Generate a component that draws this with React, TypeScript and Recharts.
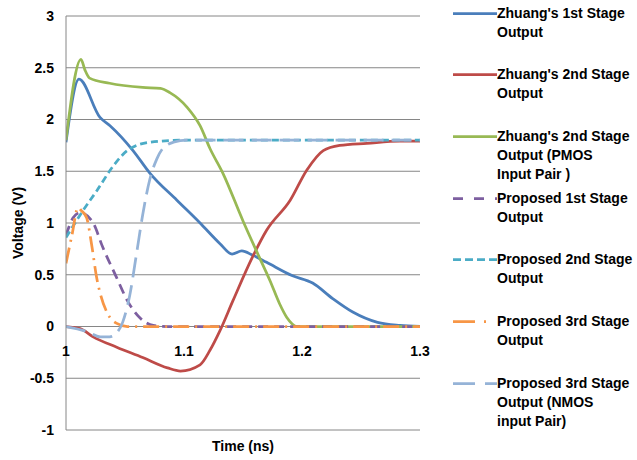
import React from 'react';
import { LineChart, Line, XAxis, YAxis, CartesianGrid, ReferenceDot, Label } from 'recharts';

type Pt = [number, number];

// [time (ns), voltage (V)]
const zhuang1st: Pt[] = [
  [1.0, 1.78], [1.011, 2.39], [1.0288, 2.02], [1.0373, 1.94], [1.0568, 1.7], [1.0712, 1.48],
  [1.094, 1.22], [1.1136, 1.0], [1.1305, 0.8], [1.1407, 0.7], [1.149, 0.73], [1.158, 0.69],
  [1.17, 0.62], [1.192, 0.49], [1.209, 0.42], [1.226, 0.27], [1.243, 0.14], [1.264, 0.04],
  [1.283, 0.01], [1.3, 0.0],
];
const zhuang2nd: Pt[] = [
  [1.0, 0.0], [1.012, -0.02], [1.023, -0.1], [1.043, -0.2], [1.065, -0.3], [1.086, -0.4],
  [1.097, -0.43], [1.1136, -0.37], [1.122, -0.23], [1.1305, -0.04], [1.1415, 0.25], [1.158, 0.67],
  [1.17, 0.93], [1.19, 1.22], [1.204, 1.51], [1.218, 1.7], [1.232, 1.75], [1.255, 1.77],
  [1.283, 1.79], [1.3, 1.79],
];
const zhuang2ndPmos: Pt[] = [
  [1.0, 1.8], [1.0127, 2.58], [1.016, 2.48], [1.02, 2.4], [1.037, 2.35], [1.065, 2.31],
  [1.08, 2.3], [1.088, 2.26], [1.1025, 2.12], [1.1136, 1.94], [1.122, 1.72], [1.133, 1.48],
  [1.15, 1.02], [1.163, 0.69], [1.173, 0.44], [1.181, 0.22], [1.187, 0.09], [1.196, 0.0],
  [1.3, 0.0],
];
const proposed1st: Pt[] = [
  [1.0, 0.88], [1.006, 1.05], [1.012, 1.1], [1.023, 1.0], [1.031, 0.77], [1.043, 0.47],
  [1.052, 0.25], [1.063, 0.08], [1.074, 0.01], [1.086, 0.0], [1.3, 0.0],
];
const proposed2nd: Pt[] = [
  [1.0, 0.86], [1.006, 0.97], [1.0144, 1.12], [1.026, 1.31], [1.04, 1.55], [1.052, 1.7],
  [1.071, 1.78], [1.099, 1.8], [1.3, 1.8],
];
const proposed3rd: Pt[] = [
  [1.0, 0.61], [1.005, 0.88], [1.0102, 1.15], [1.013, 1.12], [1.0175, 1.05], [1.022, 0.77],
  [1.026, 0.47], [1.029, 0.32], [1.035, 0.13], [1.043, 0.03], [1.052, 0.0], [1.3, 0.0],
];
const proposed3rdNmos: Pt[] = [
  [1.0, 0.0], [1.018, -0.05], [1.029, -0.1], [1.037, -0.1], [1.043, -0.06], [1.048, 0.04],
  [1.054, 0.3], [1.06, 0.72], [1.065, 1.08], [1.071, 1.42], [1.077, 1.62], [1.082, 1.72],
  [1.091, 1.78], [1.1025, 1.8], [1.3, 1.8],
];

const xTicks = [1, 1.1, 1.2, 1.3];
const yTicks = [-1, -0.5, 0, 0.5, 1, 1.5, 2, 2.5, 3];

const series = [
  { key: 'z1', name: "Zhuang's 1st Stage\nOutput", pts: zhuang1st, color: '#4A7EBB', dash: undefined as string | undefined, legendDash: undefined as string | undefined },
  { key: 'z2', name: "Zhuang's 2nd Stage\nOutput", pts: zhuang2nd, color: '#BE4B48', dash: undefined, legendDash: undefined },
  { key: 'z3', name: "Zhuang's 2nd Stage\nOutput (PMOS\nInput Pair )", pts: zhuang2ndPmos, color: '#98B954', dash: undefined, legendDash: undefined },
  { key: 'p1', name: 'Proposed 1st Stage\nOutput', pts: proposed1st, color: '#7D5FA0', dash: '10 6', legendDash: '10 11' },
  { key: 'p2', name: 'Proposed 2nd Stage\nOutput', pts: proposed2nd, color: '#4BACC6', dash: '7 4', legendDash: '8 4' },
  { key: 'p3', name: 'Proposed 3rd Stage\nOutput', pts: proposed3rd, color: '#F79646', dash: '16 6 2 6', legendDash: '22 9 2 20' },
  { key: 'p4', name: 'Proposed 3rd Stage\nOutput (NMOS\ninput Pair)', pts: proposed3rdNmos, color: '#95B3D7', dash: '20 8', legendDash: '22 10' },
];

const FONT = "'Liberation Sans', Arial, sans-serif";
const GRID = '#868686';
const TXT = { fontFamily: FONT, fontWeight: 'bold' as const, fontSize: 14, fill: '#000' };

const YTitle = (props: any) => {
  const vb = props.viewBox || {};
  const cy = (vb.y || 0) + (vb.height || 0) / 2;
  const cx = 18;
  return (
    <text
      x={cx}
      y={cy}
      transform={`rotate(-90, ${cx}, ${cy})`}
      textAnchor="middle"
      dominantBaseline="central"
      fontFamily={FONT}
      fontWeight="bold"
      fontSize={14}
      fill="#000"
    >
      Voltage (V)
    </text>
  );
};

export default function App() {
  return (
    <div style={{ position: 'fixed', left: 0, top: 0, width: 637, height: 460, background: '#fff', fontFamily: FONT }}>
      <LineChart width={637} height={460} margin={{ top: 16, right: 217, bottom: 0, left: 0 }} style={{ fontFamily: FONT }}>
        <CartesianGrid vertical={false} stroke={GRID} strokeWidth={1} />
        <XAxis
          type="number"
          dataKey="t"
          domain={[1, 1.3]}
          ticks={xTicks}
          allowDataOverflow
          tick={false}
          tickLine={false}
          axisLine={false}
          height={30}
          label={{ value: 'Time (ns)', position: 'insideBottom', offset: 9, style: TXT, fontFamily: FONT }}
        />
        <YAxis
          type="number"
          domain={[-1, 3]}
          ticks={yTicks}
          allowDataOverflow
          width={66}
          tickLine={false}
          tickSize={0}
          tickMargin={12}
          axisLine={{ stroke: GRID, strokeWidth: 1 }}
          tick={{ ...TXT }}
        >
          <Label content={YTitle} />
        </YAxis>
        {xTicks.map((t) => (
          <ReferenceDot
            key={t}
            x={t}
            y={0}
            r={0}
            fill="none"
            stroke="none"
            label={{ value: String(t), position: 'bottom', offset: 20, style: TXT, fontFamily: FONT }}
          />
        ))}
        {series.map((s) => (
          <Line
            key={s.key}
            data={s.pts.map(([t, v]) => ({ t, v }))}
            dataKey="v"
            name={s.name}
            type="monotone"
            stroke={s.color}
            strokeWidth={2.75}
            strokeDasharray={s.dash}
            dot={false}
            activeDot={false}
            isAnimationActive={false}
          />
        ))}
      </LineChart>
      <div style={{ position: 'absolute', left: 0, top: 0, width: 637, height: 460, pointerEvents: 'none' }}>
        {series.map((s, i) => (
          <div key={s.key} style={{ position: 'absolute', left: 453, top: 3.5 + i * 61.7, width: 184 }}>
            <svg width={44} height={19} style={{ position: 'absolute', left: 0, top: 0 }}>
              <line x1={0} y1={9.5} x2={44} y2={9.5} stroke={s.color} strokeWidth={2.75} strokeDasharray={s.legendDash} />
            </svg>
            <div
              style={{
                position: 'absolute',
                left: 44,
                top: 0,
                whiteSpace: 'pre',
                fontFamily: FONT,
                fontWeight: 'bold',
                fontSize: 14,
                lineHeight: '19px',
                color: '#000',
              }}
            >
              {s.name}
            </div>
          </div>
        ))}
      </div>
    </div>
  );
}
